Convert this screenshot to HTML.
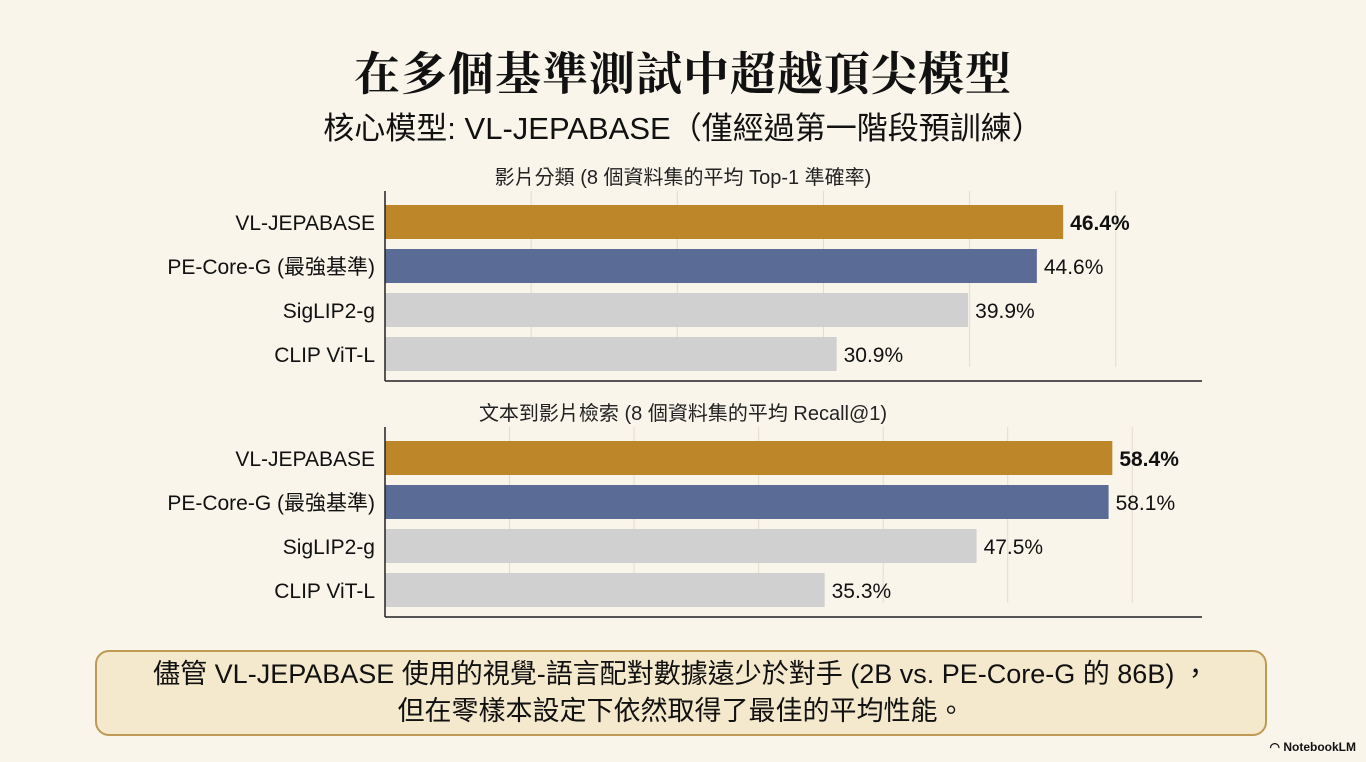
<!DOCTYPE html>
<html><head><meta charset="utf-8">
<style>
body{margin:0;width:1366px;height:762px;background:#f9f5eb;position:relative;overflow:hidden;font-family:"Liberation Sans","Noto Sans CJK TC",sans-serif;color:#111}
.t{position:absolute;left:0;width:1366px;text-align:center;white-space:nowrap}
#title{top:38px;font-family:"Liberation Serif","Noto Serif CJK SC",serif;font-weight:bold;font-size:46px;letter-spacing:1px}
#sub{top:103px;font-size:31px}
#note{position:absolute;left:95px;top:650px;width:1172px;height:86px;border:2px solid #bf9a55;border-radius:14px;background:#f4e8cd;text-align:center;font-size:27px;line-height:37px;padding-top:4px;box-sizing:border-box;white-space:nowrap}
#brand{position:absolute;right:10px;top:740px;font-size:12px;font-weight:bold}
svg{position:absolute;left:0;top:0}
</style></head><body>
<div class="t" id="title">在多個基準測試中超越頂尖模型</div>
<div class="t" id="sub">核心模型: VL-JEPABASE（僅經過第一階段預訓練）</div>
<svg id="chart" width="1366" height="762"></svg>
<div id="note">儘管 VL-JEPABASE 使用的視覺-語言配對數據遠少於對手 (2B vs. PE-Core-G 的 86B) ，<br>但在零樣本設定下依然取得了最佳的平均性能。</div>
<div id="brand">◠ NotebookLM</div>
<script>
const models = ["VL-JEPABASE","PE-Core-G (最強基準)","SigLIP2-g","CLIP ViT-L"];
const classValues = [46.4,44.6,39.9,30.9];
const retrievalValues = [58.4,58.1,47.5,35.3];
const chartTitles = ["影片分類 (8 個資料集的平均 Top-1 準確率)","文本到影片檢索 (8 個資料集的平均 Recall@1)"];
const colors = ["#bd8628","#5a6c96","#d0d0d0","#d0d0d0"];
const NS="http://www.w3.org/2000/svg";
const svg=document.getElementById('chart');
function mk(tag,attrs){const e=document.createElementNS(NS,tag);for(const k in attrs)e.setAttribute(k,attrs[k]);svg.appendChild(e);return e;}
function draw(values,title,top,maxV,idx){
  const x0=385,x1=1202;
  const xs=v=>x0+(v/maxV)*(x1-x0);
  const t=mk('text',{x:683,y:top-21,'text-anchor':'middle','font-size':20,fill:'#222'});t.textContent=title;
  
  
  for(let g=10;g<maxV;g+=10){
    const l=mk('line',{x1:xs(g),x2:xs(g),y1:top-14,y2:top+162,stroke:'#e2dccd','stroke-width':1});
    
    
  }
  values.forEach((v,i)=>{
    const y=top+i*44;
    const r=mk('rect',{x:x0,y:y,width:xs(v)-x0,height:34,fill:colors[i]});
    
    
    const lb=mk('text',{x:375,y:y+25,'text-anchor':'end','font-size':21,fill:'#111'});lb.textContent=models[i];
    
    
    const vl=mk('text',{x:xs(v)+7,y:y+25,'font-size':21,fill:'#111','font-weight':i==0?'bold':'normal'});vl.textContent=v.toFixed(1)+'%';
    
    
  });
  const a=mk('line',{x1:x0,x2:x1,y1:top+176,y2:top+176,stroke:'#222','stroke-width':1.5});
  
  
  const b=mk('line',{x1:x0,x2:x0,y1:top-14,y2:top+176,stroke:'#222','stroke-width':1.5});
  
  
}
draw(classValues,chartTitles[0],205,55.9,0);
draw(retrievalValues,chartTitles[1],441,65.6,1);
</script>
</body></html>
